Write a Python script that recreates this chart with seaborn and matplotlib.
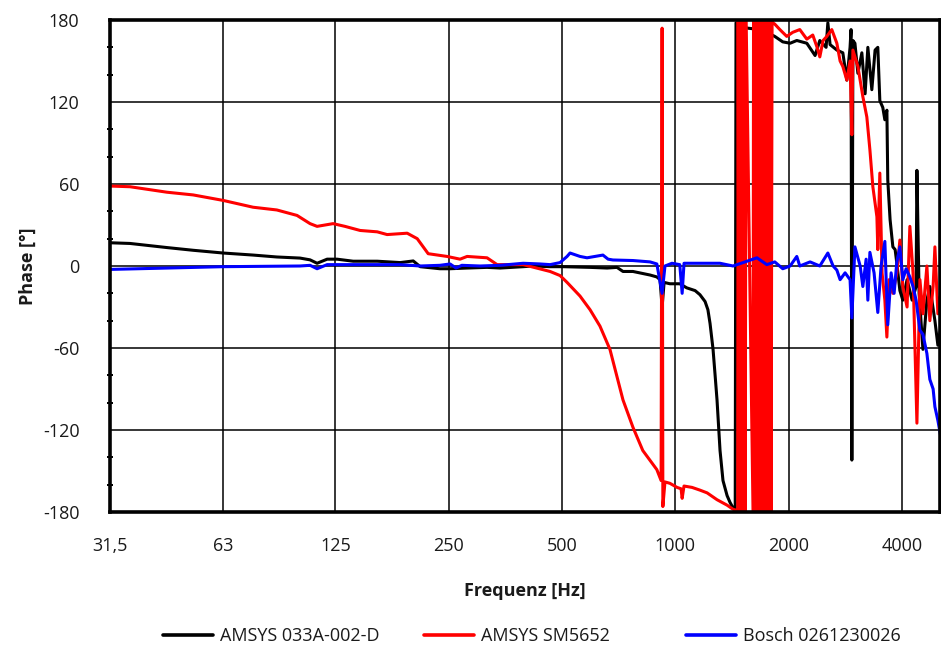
import matplotlib
matplotlib.use("Agg")
import matplotlib.pyplot as plt
from matplotlib.lines import Line2D
from matplotlib.ticker import FixedLocator, NullLocator, MultipleLocator
import numpy as np
import pandas as pd
import seaborn as sns

# ---- data -------------------------------------------------------------
sensor_names = ["AMSYS 033A-002-D", "AMSYS SM5652", "Bosch 0261230026"]
sensor_colors = ["#000000", "#ff0000", "#0000ff"]

x_ticks = [31.5, 63, 125, 250, 500, 1000, 2000, 4000]
x_tick_labels = ["31,5", "63", "125", "250", "500", "1000", "2000", "4000"]
y_ticks = [-180, -120, -60, 0, 60, 120, 180]

amsys033_freq = [
    31.5, 35.6, 44.6, 52.4, 62.9, 75.6, 87.4, 100.7, 107.1, 111.8, 118.9, 126.3,
    139.4, 161.5, 186.0, 201.3, 210.1, 237, 252.2, 279.9, 316.2, 342.4, 394.4,
    418.9, 465.0, 503.3, 593.8, 659, 700.1, 726.3, 771.9, 857, 893.4, 911, 922.6,
    934, 967.5, 1027.9, 1073, 1129, 1163, 1200, 1221, 1237, 1260, 1276, 1291,
    1315, 1339, 1373, 1398, 1424, 1443, 1450, 1486, 1561, 1679, 1751, 1838, 1930,
    2019, 2103, 2236, 2352, 2421, 2516, 2543, 2578, 2687, 2787, 2856, 2913, 2931,
    2945, 2964, 3001, 3056, 3131, 3194, 3248, 3328, 3395, 3452, 3495, 3559, 3604,
    3649, 3669, 3721, 3785, 3838, 3878, 3951, 4023, 4129, 4258, 4363, 4385, 4444,
    4549, 4661, 4746, 4895, 4985, 5075,
]
amsys033_phase = [
    17, 16.5, 13.5, 11.5, 9.5, 8, 6.6, 5.8, 4.5, 2, 5, 5,
    3.5, 3.5, 2.5, 3.7, -0.5, -2, -2, -1.5, -1, -1.5, -0.5,
    0, -0.5, -0.5, -1, -1.5, -1, -4, -4, -6.6, -8, -10, -30,
    -12, -13, -13, -16, -18, -21, -26, -32, -42, -61, -80, -98,
    -135, -157, -168, -173, -177, -179, 178, 175, 174, 173, 171, 168, 164,
    163, 165, 163, 154, 165, 160, 178, 162, 158, 156, 136, 160, 173,
    -142, 165, 163, 141, 156, 126, 160, 129, 158, 160, 121, 116, 107,
    114, 63, 34, 14, 12, 2, -18, -25, -10, -25, -15, 70, -20,
    -61, -25, -15, -40, -58, -45,
]

sm5652_freq = [
    31.5, 35.6, 44.6, 52.4, 62.9, 75.6, 87.4, 98.9, 107.1, 111.8, 123.3, 132.6,
    145.5, 161.5, 171.6, 194.0, 206.3, 220.6, 247.6, 268.1, 279.9, 316.2, 336.3,
    394.4, 465.0, 494.3, 515.9, 558.4, 593.8, 630.9, 670.6, 700.1, 726.3, 771.9,
    819.8, 893.4, 917, 922.6, 926.9, 939, 967.5, 1011, 1036, 1043, 1055, 1108,
    1163, 1215, 1291, 1373, 1424, 1465,
    1469, 1478, 1486, 1496, 1505, 1514, 1524, 1533, 1543,
    1609, 1614, 1619, 1628,
    1648, 1659, 1669, 1679, 1690, 1701, 1709, 1721, 1730, 1743, 1751,
    1765, 1776, 1783, 1797, 1808, 1816,
    1838, 1896, 1978, 2052, 2142, 2236, 2319, 2381, 2421, 2470, 2527, 2605, 2687,
    2741, 2787, 2856, 2913, 2945, 2964, 3056, 3150, 3228, 3289, 3349, 3433, 3452,
    3495, 3543, 3604, 3649, 3699, 3785, 3878, 3951, 4023, 4129, 4200, 4282, 4385,
    4466, 4549, 4661, 4746, 4842, 4895, 4985, 5075,
]
sm5652_phase = [
    58.5, 58, 54, 52, 48, 43, 41, 37, 31, 29, 31, 29,
    26, 25, 23, 24, 20, 9, 7, 5, 7, 6, 1,
    1, -4, -7, -12, -22, -32, -44, -61, -81, -98, -118,
    -135, -149, -157, 174, -176, -158, -159, -162, -163, -170, -161, -162,
    -164, -166, -171, -175, -178, -179,
    179, -179, 179, -179, 179, -179, 179, -179, 179,
    -179, 179, -179, 179,
    -179, 179, -179, 179, -179, 179, -179, 179, -179, 179, -179,
    179, -179, 179, -179, 179, 178,
    177, 173, 168, 171, 173, 166, 169, 160, 153, 165, 168, 173, 163,
    150, 146, 136, 150, 96, 158, 146, 124, 109, 85, 58, 36, 12,
    68, -5, -25, -52, -10, -20, -5, 19, -15, -30, 29, -5, -115,
    -10, -35, 0, -40, -15, 14, -35, -20,
]

bosch_freq = [
    31.5, 44.6, 62.9, 100.7, 107.1, 111.8, 118.9, 126.3, 186.0, 210.1, 237, 252.2,
    261.6, 271, 303, 342.4, 394.4, 437, 465.0, 494.3, 515.9, 525.3, 558.4, 582.9,
    612, 642.4, 663, 682.9, 771.9, 857, 893.4, 922.6, 939, 980, 1027.9, 1043, 1055,
    1163, 1315, 1424, 1533, 1648, 1751, 1838, 1930, 2019, 2103, 2142, 2281, 2421,
    2543, 2626, 2687, 2741, 2826, 2913, 2945, 3001, 3099, 3150, 3214, 3248, 3289,
    3374, 3452, 3522, 3604, 3669, 3745, 3814, 3878, 3951, 4023, 4105, 4200, 4282,
    4363, 4466, 4549, 4661, 4746, 4842, 4895, 4985, 5075,
]
bosch_phase = [
    -2.5, -1.5, -0.5, 0, 0.5, -2, 1, 1, 1, 0, 0.5, 1.5,
    -1.5, 0.5, 0, 0.5, 2, 1.5, 1, 2.5, 7, 9.5, 7, 6,
    7, 8, 5, 4.4, 4, 3, 1.5, -20, 0, 2, 1, -20, 2,
    2, 2, 0, 3, 6, 1, 3, -2, 0, 7, 0, 3, 0,
    9.5, 0, -3, -10, -5, -10, -38, 14, 0, -15, 5, -25, 10,
    -5, -34, 0, 18, -43, -5, -20, 3, 14, -10, -2, -8, -15,
    -25, -47, -50, -64, -83, -90, -103, -113, -125,
]

# ---- long-form table ----------------------------------------------------
frames = []
for name, f, p in [
    (sensor_names[0], amsys033_freq, amsys033_phase),
    (sensor_names[1], sm5652_freq, sm5652_phase),
    (sensor_names[2], bosch_freq, bosch_phase),
]:
    frames.append(pd.DataFrame({"freq": f, "phase": p, "sensor": name}))
df = pd.concat(frames, ignore_index=True)

# ---- figure -------------------------------------------------------------
sns.set_theme(style="white")
plt.rcParams["font.family"] = ["Open Sans", "DejaVu Sans"]
plt.rcParams["axes.unicode_minus"] = False

fig = plt.figure(figsize=(9.41, 6.5), dpi=100)
ax = fig.add_axes([110 / 941, 1 - 512 / 650, 830 / 941, 492 / 650])

sns.lineplot(
    data=df, x="freq", y="phase", hue="sensor", hue_order=sensor_names,
    palette=sensor_colors, estimator=None, sort=False, lw=2.2,
    legend=False, ax=ax,
)

ax.set_xscale("log", base=2)
ax.set_xlim(31.5, 5050)
ax.set_ylim(-180, 180)
ax.xaxis.set_major_locator(FixedLocator(x_ticks))
ax.xaxis.set_minor_locator(NullLocator())
ax.set_xticklabels(x_tick_labels)
ax.yaxis.set_major_locator(FixedLocator(y_ticks))
ax.yaxis.set_minor_locator(MultipleLocator(20))

ax.grid(True, which="major", color="black", lw=1.1)
ax.tick_params(axis="both", which="major", length=0, labelsize=13,
               labelcolor="#1a1a1a")
ax.tick_params(axis="x", which="major", pad=18)
ax.tick_params(axis="y", which="major", pad=22)
ax.tick_params(axis="y", which="minor", left=True, length=4, width=1.4,
               direction="inout", color="black")

for side in ["left", "top", "bottom", "right"]:
    ax.spines[side].set_visible(True)
    ax.spines[side].set_color("black")
    ax.spines[side].set_linewidth(2.6)

ax.set_xlabel("Frequenz [Hz]", fontsize=13, fontweight="bold", color="#1a1a1a")
ax.set_ylabel("Phase [°]", fontsize=13, fontweight="bold", color="#1a1a1a")
ax.xaxis.set_label_coords(0.5, -0.142)
ax.yaxis.set_label_coords(-0.088, 0.5)

# one legend entry per slot, evenly spaced below the plot
slot_x = [163, 424, 686]
for name, color, x0 in zip(sensor_names, sensor_colors, slot_x):
    fig.legend(
        handles=[Line2D([], [], color=color, lw=2.6)], labels=[name],
        loc="center left", bbox_to_anchor=(x0 / 941, 1 - 636 / 650),
        frameon=False, fontsize=13, handlelength=2.77, handletextpad=0.39,
        borderpad=0, borderaxespad=0, labelcolor="#1a1a1a",
    )

fig.savefig("out.png", dpi=100)
